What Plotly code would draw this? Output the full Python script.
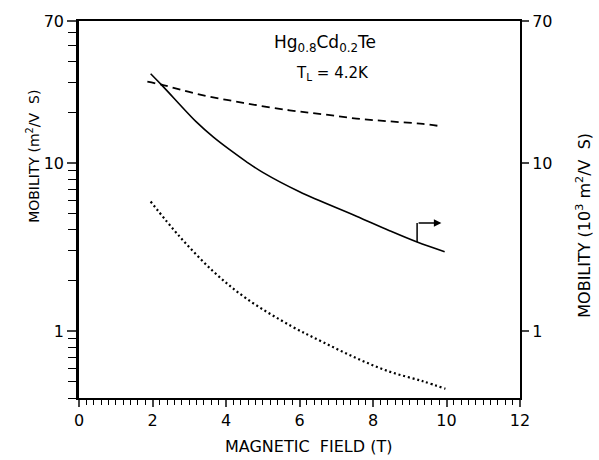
import numpy as np
import plotly.graph_objects as go

# ---- data ----
# solid curve (right axis, 10^3 m^2/V s)
solid_x = [1.95, 2.29, 3.2, 3.65, 4.1, 4.55, 5.0, 6.0, 7.55, 8.45, 9.2, 9.95]
solid_y = [34, 28.5, 17.5, 14.3, 12.0, 10.2, 8.8, 6.75, 4.83, 3.96, 3.39, 2.97]
# dashed curve (left axis, m^2/V s)
dash_x = [1.86, 2.29, 3.2, 4.47, 5.73, 6.64, 7.55, 8.45, 9.36, 9.81]
dash_y = [30.5, 29.1, 25.8, 22.8, 20.6, 19.5, 18.4, 17.7, 17.1, 16.6]
# dotted curve (left axis, m^2/V s)
dot_x = [1.95, 2.74, 3.65, 4.56, 5.78, 6.64, 7.55, 8.45, 9.36, 9.97]
dot_y = [5.9, 3.65, 2.27, 1.56, 1.07, 0.86, 0.69, 0.574, 0.503, 0.454]

x_major = [0, 2, 4, 6, 8, 10, 12]
y_major = [1, 10, 70]
y_minor = [0.4, 0.5, 0.6, 0.7, 0.8, 0.9, 2, 3, 4, 5, 6, 7, 8, 9, 20, 30, 40, 50, 60]
y_range = [0.4, 70]
x_range = [0, 12]
arrow_x = [9.2, 9.86]
arrow_y = 4.4

FONT = "DejaVu Sans"

fig = go.Figure()
fig.add_trace(go.Scatter(x=dash_x, y=dash_y, mode="lines", yaxis="y",
                         line=dict(color="black", width=1.8, dash="8px,5px", shape="spline"),
                         showlegend=False))
fig.add_trace(go.Scatter(x=dot_x, y=dot_y, mode="lines", yaxis="y",
                         line=dict(color="black", width=2.2, dash="2px,2.8px", shape="spline"),
                         showlegend=False))
fig.add_trace(go.Scatter(x=solid_x, y=solid_y, mode="lines", yaxis="y2",
                         line=dict(color="black", width=1.6, shape="spline"),
                         showlegend=False))

fig.update_layout(
    width=599, height=460,
    margin=dict(l=79, r=79, t=15, b=62),
    paper_bgcolor="white", plot_bgcolor="white",
    font=dict(family=FONT, color="black", size=15),
    xaxis=dict(range=x_range, tickvals=x_major, ticks="outside", ticklen=7, tickwidth=1.5,
               showline=True, linewidth=2, linecolor="black", mirror=True,
               showgrid=False, zeroline=False, tickfont=dict(size=16),
               minor=dict(dtick=0.2, ticks="outside", ticklen=5, tickwidth=1.3, tickcolor="black")),
    yaxis=dict(type="log", range=[np.log10(y_range[0]), np.log10(y_range[1])],
               tickvals=y_major, ticktext=[str(v) for v in y_major],
               ticks="outside", ticklen=9, tickwidth=1.5,
               showline=True, linewidth=2.5, linecolor="black",
               showgrid=False, zeroline=False, tickfont=dict(size=16),
               minor=dict(tickvals=y_minor, ticks="outside", ticklen=8, tickwidth=1.3,
                          tickcolor="black", showgrid=False)),
    yaxis2=dict(type="log", range=[np.log10(y_range[0]), np.log10(y_range[1])],
                overlaying="y", side="right",
                tickvals=y_major, ticktext=[str(v) for v in y_major],
                ticks="outside", ticklen=7, tickwidth=1.5,
                showline=True, linewidth=2, linecolor="black",
                showgrid=False, zeroline=False, tickfont=dict(size=16)),
)

# arrow marking the solid curve's axis
fig.add_shape(type="line", xref="x", yref="y2",
              x0=arrow_x[0], x1=arrow_x[0],
              y0=solid_y[10], y1=arrow_y,
              line=dict(color="black", width=1.5))
fig.add_annotation(x=arrow_x[1], y=np.log10(arrow_y), xref="x", yref="y2",
                   ax=arrow_x[0], ay=np.log10(arrow_y), axref="x", ayref="y2",
                   showarrow=True, arrowhead=2, arrowsize=1, arrowwidth=1.5,
                   arrowcolor="black", text="")

# labels
fig.add_annotation(text="Hg<sub>0.8</sub>Cd<sub>0.2</sub>Te", xref="paper", yref="paper",
                   x=(325 - 79) / 441, y=(398 - 38) / 383, showarrow=False,
                   font=dict(size=17), xanchor="center", yanchor="middle")
fig.add_annotation(text="T<sub>L</sub> = 4.2K", xref="paper", yref="paper",
                   x=(332 - 79) / 441, y=(398 - 68) / 383, showarrow=False,
                   font=dict(size=15), xanchor="center", yanchor="middle")
fig.add_annotation(text="MAGNETIC  FIELD (T)", xref="paper", yref="paper",
                   x=(308 - 79) / 441, y=(398 - 447) / 383, showarrow=False,
                   font=dict(size=16), xanchor="center", yanchor="middle")
fig.add_annotation(text="MOBILITY (m<sup>2</sup>/V  S)", xref="paper", yref="paper",
                   x=(33 - 79) / 441, y=(398 - 153) / 383, showarrow=False, textangle=-90,
                   font=dict(size=14), xanchor="center", yanchor="middle")
fig.add_annotation(text="MOBILITY (10<sup>3</sup> m<sup>2</sup>/V  S)", xref="paper", yref="paper",
                   x=(584 - 79) / 441, y=(398 - 223) / 383, showarrow=False, textangle=-90,
                   font=dict(size=16), xanchor="center", yanchor="middle")

fig.write_html("out.html", config={"displayModeBar": False},
               post_script="document.body.style.margin='0';document.body.style.overflow='hidden';")
